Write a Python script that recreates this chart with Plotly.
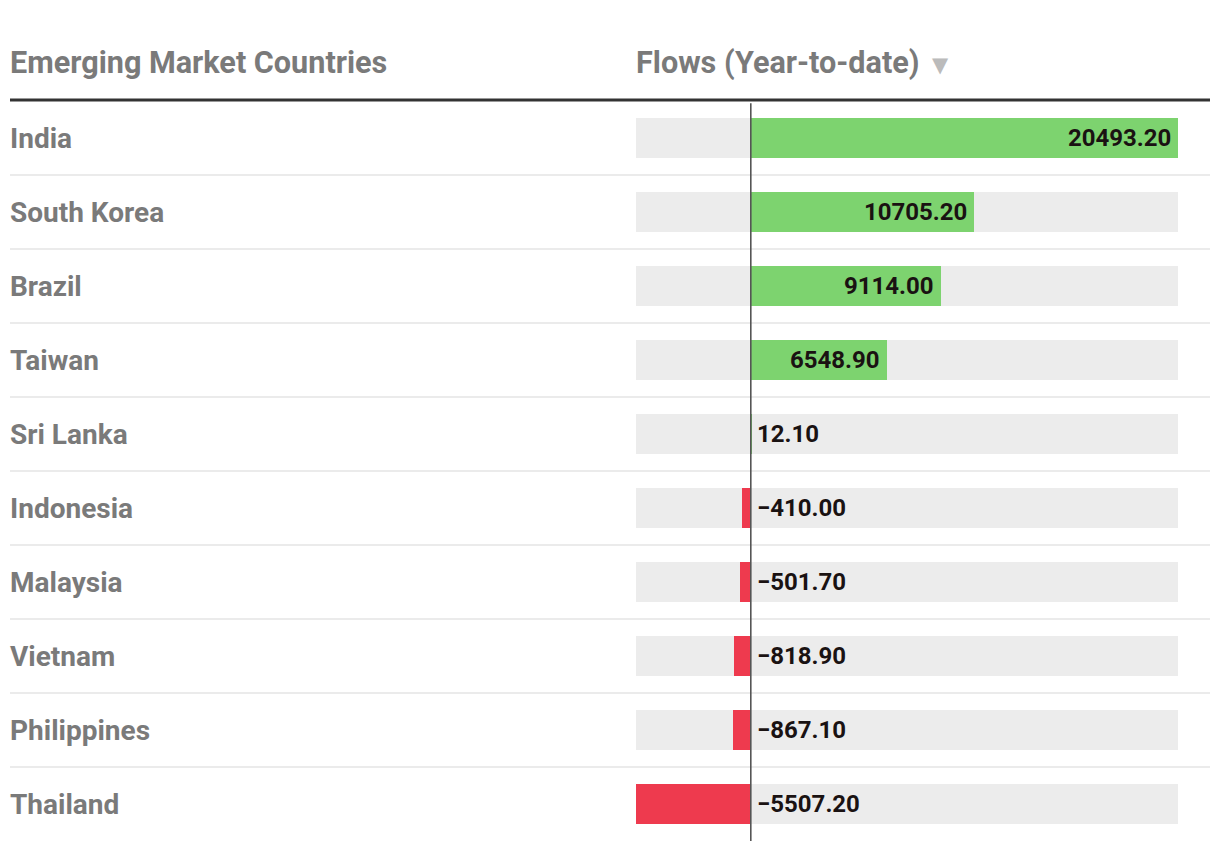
import plotly.graph_objects as go

countries = ["India", "South Korea", "Brazil", "Taiwan", "Sri Lanka",
             "Indonesia", "Malaysia", "Vietnam", "Philippines", "Thailand"]
flows = [20493.20, 10705.20, 9114.00, 6548.90, 12.10,
         -410.00, -501.70, -818.90, -867.10, -5507.20]
col_headers = ["Emerging Market Countries", "Flows (Year-to-date)"]

W, H = 1220, 850
FONT = "Roboto"
GREEN = "#7dd36f"
RED = "#ee3a4e"
BG = "#ececec"
LABEL_GRAY = "#7a7a7a"

vmin, vmax = min(flows), max(flows)
n = len(countries)
row_px = 74
first_center = 138
bar_w = 40 / row_px
y_top = -first_center / row_px
y_bot = (H - first_center) / row_px

fig = go.Figure()
# background track
fig.add_trace(go.Bar(
    y=countries, x=[vmax - vmin] * n, base=[vmin] * n, orientation="h",
    marker=dict(color=BG, line=dict(width=0)), width=bar_w,
    hoverinfo="skip", showlegend=False))
# value bars
fig.add_trace(go.Bar(
    y=countries, x=flows, orientation="h",
    marker=dict(color=[GREEN if v >= 0 else RED for v in flows], line=dict(width=0)),
    width=bar_w, hoverinfo="skip", showlegend=False))

annotations = []
for c, v in zip(countries, flows):
    txt = f"{v:.2f}".replace("-", "\u2212")
    if v > 1000:
        annotations.append(dict(x=v, y=c, xref="x", yref="y", text=txt, showarrow=False,
                                xanchor="right", xshift=-5,
                                font=dict(family=FONT, size=24, color="#1a1212", weight="bold")))
    else:
        annotations.append(dict(x=0, y=c, xref="x", yref="y", text=txt, showarrow=False,
                                xanchor="left", xshift=4,
                                font=dict(family=FONT, size=24, color="#1a1212", weight="bold")))
    annotations.append(dict(x=10 / W, y=c, xref="paper", yref="y", text=c, showarrow=False,
                            xanchor="left", xshift=-2,
                            font=dict(family=FONT, size=28, color=LABEL_GRAY, weight="bold")))

# headers
annotations.append(dict(x=10 / W, y=1 - 63 / H, xref="paper", yref="paper", text=col_headers[0],
                        showarrow=False, xanchor="left", yanchor="middle", xshift=-2,
                        font=dict(family=FONT, size=30.6, color=LABEL_GRAY, weight="bold")))
annotations.append(dict(x=636 / W, y=1 - 63 / H, xref="paper", yref="paper", text=col_headers[1],
                        showarrow=False, xanchor="left", yanchor="middle", xshift=-2,
                        font=dict(family=FONT, size=30.6, color=LABEL_GRAY, weight="bold")))
annotations.append(dict(x=930 / W, y=1 - 65 / H, xref="paper", yref="paper", text="\u25BC",
                        showarrow=False, xanchor="left", yanchor="middle",
                        font=dict(family="DejaVu Sans", size=21, color="#bbbbbb")))

shapes = []
# header rule
shapes.append(dict(type="line", xref="paper", yref="paper", x0=10 / W, x1=1210 / W,
                   y0=1 - 100 / H, y1=1 - 100 / H, line=dict(color="#333333", width=3)))
# row separators
for i in range(n - 1):
    shapes.append(dict(type="line", xref="paper", yref="y", x0=10 / W, x1=1210 / W,
                       y0=i + 0.5, y1=i + 0.5, line=dict(color="#ebebeb", width=2), layer="below"))
# zero line
shapes.append(dict(type="line", xref="x", yref="y", x0=0, x1=0, y0=-0.5 + 0.03, y1=n - 0.5,
                   line=dict(color="#555555", width=1.6), layer="above"))

fig.update_layout(
    width=W, height=H, margin=dict(l=0, r=0, t=0, b=0),
    paper_bgcolor="white", plot_bgcolor="rgba(0,0,0,0)",
    barmode="overlay", bargap=0,
    xaxis=dict(domain=[636 / W, 1178 / W], range=[vmin, vmax], visible=False, fixedrange=True),
    yaxis=dict(domain=[0, 1], type="category", range=[y_bot, y_top], visible=False, fixedrange=True),
    annotations=annotations, shapes=shapes, showlegend=False,
)

fig.write_html("out.html")
